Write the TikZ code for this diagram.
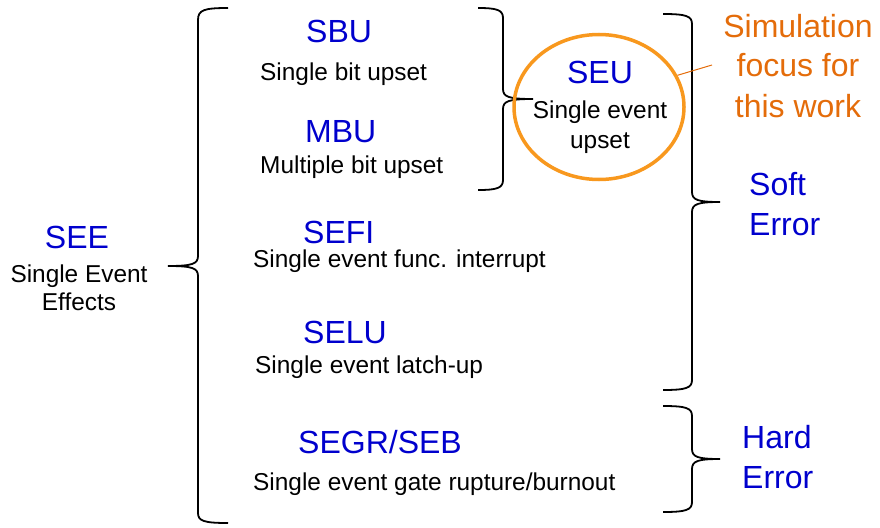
\documentclass[tikz,border=0pt]{standalone}
\usepackage{fontspec}
\setmainfont{Liberation Sans}
\usetikzlibrary{shapes.geometric}
\definecolor{lblblue}{RGB}{0,0,205}
\definecolor{focusorange}{RGB}{228,108,10}
\definecolor{ringorange}{RGB}{248,152,30}
% right-facing brace: #1 arm end x, #2 spine x, #3 tip x, #4 top y, #5 bottom y
\newcommand\braceRight[5]{%
  \draw[bracestyle] (#1,#4) .. controls ({#2-6},#4) and (#2,{#4+2}) .. (#2,{#4+10})
    -- (#2,{(#4+#5)/2-10}) .. controls (#2,{(#4+#5)/2-2}) and ({#2+6},{(#4+#5)/2}) .. (#3,{(#4+#5)/2})
    .. controls ({#2+6},{(#4+#5)/2}) and (#2,{(#4+#5)/2+2}) .. (#2,{(#4+#5)/2+10})
    -- (#2,{#5-10}) .. controls (#2,{#5-2}) and ({#2-6},#5) .. (#1,#5);}
\begin{document}
\begin{tikzpicture}[x=1pt,y=-1pt,
  bracestyle/.style={line width=1.8pt,black},
  blue label/.style={text=lblblue,inner sep=0pt,font=\fontsize{32}{38}\selectfont},
  desc/.style={text=black,inner sep=0pt,font=\fontsize{24.4}{28}\selectfont},
  big label/.style={text=lblblue,inner sep=0pt,align=left,font=\fontsize{32}{40}\selectfont},
  focus/.style={text=focusorange,inner sep=0pt,align=center,font=\fontsize{32}{40}\selectfont}]
\useasboundingbox (0,0) rectangle (880,527);
% left brace
\draw[bracestyle] (228,8) .. controls (204,8) and (198,10) .. (198,20)
  -- (198,256) .. controls (198,264) and (192,266) .. (168,266)
  .. controls (192,266) and (198,268) .. (198,276)
  -- (198,513) .. controls (198,521) and (204,523) .. (228,523);
% right braces
\braceRight{478}{503}{533}{8}{190}
\braceRight{663}{692}{720}{14}{390}
\braceRight{663}{692}{720}{406}{512}
% SEE
\node[blue label,anchor=base] (see) at (77,248) {SEE};
\node[desc,anchor=base,align=center] (seed) at (79,310) {Single Event\\Effects};
% middle column
\node[blue label,anchor=base west] (sbu) at (306,42) {SBU};
\node[desc,anchor=base west] (sbud) at (260,80) {Single bit upset};
\node[blue label,anchor=base west] (mbu) at (305,142) {MBU};
\node[desc,anchor=base west] (mbud) at (260,173) {Multiple bit upset};
\node[blue label,anchor=base west] (sefi) at (303,243) {SEFI};
\node[desc,anchor=base west] (sefid) at (253,267) {Single event func. interrupt};
\node[blue label,anchor=base west] (selu) at (303,343) {SELU};
\node[desc,anchor=base west] (selud) at (255,373) {Single event latch-up};
\node[blue label,anchor=base west] (segr) at (298,453) {SEGR/SEB};
\node[desc,anchor=base west] (segrd) at (253,490) {Single event gate rupture/burnout};
% SEU
\node[draw=ringorange,line width=3.5pt,ellipse,minimum width=170pt,minimum height=145pt] (ring) at (599,107) {};
\node[blue label,anchor=base] (seu) at (600,83) {SEU};
\node[desc,anchor=base,align=center,font=\fontsize{24.4}{30}\selectfont] (seud) at (600,148) {Single event\\upset};
% focus note
\node[focus,anchor=base] (note) at (798,117) {Simulation\\focus for\\this work};
\coordinate (notept) at (712,65);
\draw[focusorange,line width=1pt] (ring.22) -- (notept);
% error classes
\node[big label,anchor=base west] (soft) at (749,235) {Soft\\Error};
\node[big label,anchor=base west] (hard) at (742,488) {Hard\\Error};
\end{tikzpicture}
\end{document}
